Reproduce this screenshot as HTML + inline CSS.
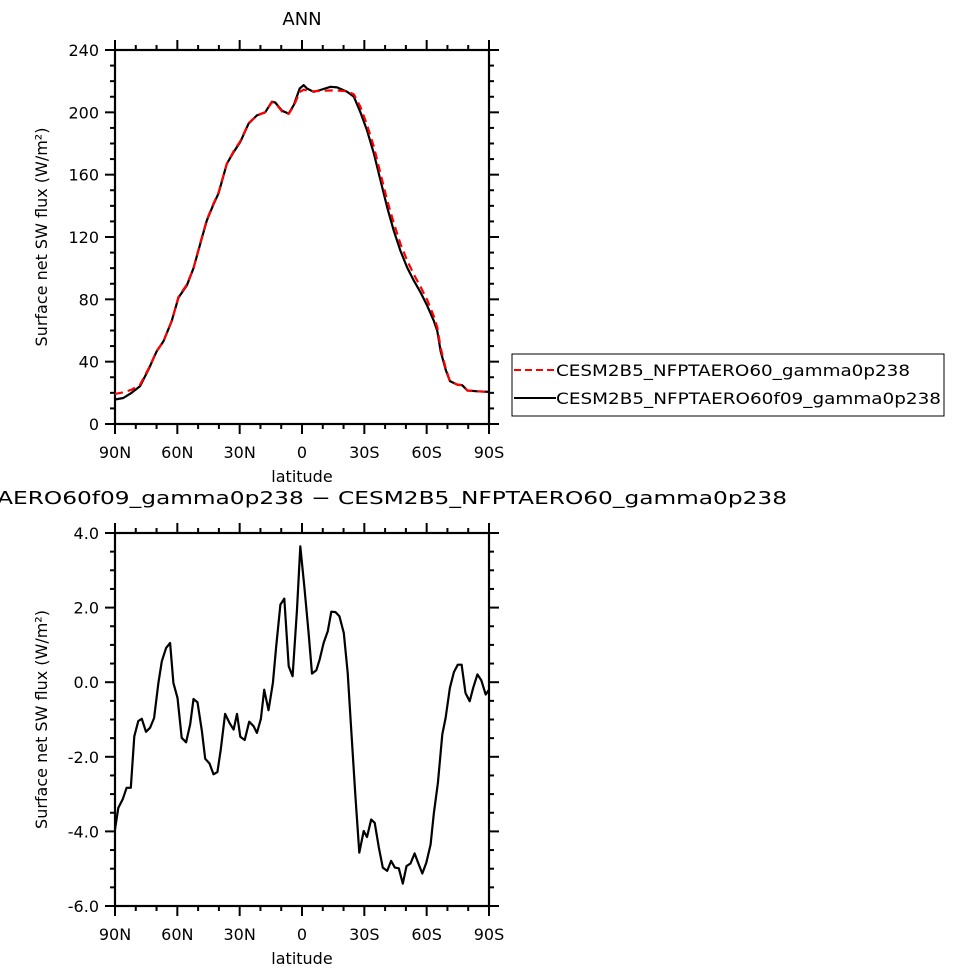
<!DOCTYPE html>
<html><head><meta charset="utf-8"><style>
html,body{margin:0;padding:0;background:#fff;}
svg{display:block;font-family:"DejaVu Sans","Liberation Sans",sans-serif;}
</style></head><body>
<svg id="c" width="977" height="975" viewBox="0 0 977 975"></svg>
<script>
// ---- top panel data ----
const topLat = [90,86,82,77.9,73.9,69.9,66.7,62.7,59.5,55.4,52.2,49.0,45.8,42.6,40.2,36.2,32.9,29.7,25.7,21.7,17.7,14.5,12.9,9.6,6.4,4.0,1.1,-0.8,-2.4,-5.6,-8.8,-13.7,-16.9,-21.7,-25.0,-28.1,-31.3,-34.6,-37.8,-41.0,-44.2,-47.4,-50.6,-53.8,-57.1,-60.3,-63.5,-65.1,-66.7,-69.1,-71.2,-74.7,-77.1,-79.6,-84.4,-90];
const blackVals = [15.7,16.7,20,24.3,35,46.8,53,66,81,89,100,115.5,130.5,141,148,167,174.5,181,192.8,198,200,206.8,206.3,201,199.2,204.6,215.3,217.5,215.3,213.2,214.3,216.4,216,213.2,210,200,188.5,173.5,156.3,139,124,111,100.5,92,84.4,75.8,66,59.7,46.8,35,27.5,25.3,24.9,21.5,21,20.6];
const redVals = [19.3,20.3,22,25.3,35.5,47,53,66,81.5,89.5,100,116,131,141.5,148.5,167,175,181.5,193,198,200,206.5,206,200.5,199,204,213,214.5,214,213.5,213.8,214,214,213.5,211.5,203.5,192,177.8,160.6,143.4,129,115.5,105,96,88,79.5,69,62,49,36,27.5,25.3,24.9,21.5,21,20.6];
const topYTicks = [0,40,80,120,160,200,240];
const xTickLabels = ["90N","60N","30N","0","30S","60S","90S"];
const xTickLats = [90,60,30,0,-30,-60,-90];
// ---- bottom panel data ----
const diffLat = [90.0,88.4,86.3,84.4,82.4,80.7,78.8,77.1,75.1,73.1,71.2,69.1,67.5,65.4,63.5,61.9,59.9,57.9,55.8,53.8,52.2,50.3,48.2,46.6,44.5,42.6,40.7,39.1,37.0,34.9,32.9,31.3,29.7,27.6,25.4,23.3,21.7,19.8,18.2,16.1,14.0,12.4,10.4,8.5,6.4,4.5,2.4,0.8,-1.1,-3.2,-4.8,-6.9,-8.5,-10.4,-12.4,-14.1,-16.1,-18.0,-20.1,-22.0,-23.6,-25.7,-27.6,-29.7,-31.3,-33.3,-35.0,-37.0,-38.9,-41.0,-42.9,-44.7,-46.6,-48.5,-50.3,-52.2,-54.2,-55.9,-57.9,-59.8,-61.9,-63.5,-65.4,-67.5,-69.1,-71.2,-73.1,-75.0,-76.8,-78.7,-80.7,-82.4,-84.4,-86.3,-88.4,-90.0];
const diffVals = [-3.95,-3.37,-3.14,-2.83,-2.83,-1.45,-1.04,-0.98,-1.33,-1.22,-0.96,-0.02,0.56,0.92,1.05,-0.02,-0.42,-1.49,-1.61,-1.13,-0.45,-0.54,-1.31,-2.05,-2.18,-2.47,-2.41,-1.80,-0.85,-1.09,-1.27,-0.85,-1.46,-1.55,-1.06,-1.18,-1.36,-0.98,-0.20,-0.75,-0.02,0.96,2.08,2.24,0.43,0.16,1.95,3.64,2.57,1.32,0.23,0.32,0.61,1.05,1.37,1.89,1.88,1.77,1.32,0.25,-1.18,-3.05,-4.57,-3.99,-4.15,-3.68,-3.77,-4.44,-4.97,-5.06,-4.79,-4.97,-4.99,-5.40,-4.93,-4.86,-4.59,-4.84,-5.13,-4.84,-4.35,-3.50,-2.70,-1.40,-0.96,-0.15,0.27,0.47,0.47,-0.29,-0.51,-0.15,0.21,0.05,-0.33,-0.20];
const botYTicks = [-6,-4,-2,0,2,4];
const botYLabels = ["-6.0","-4.0","-2.0","0.0","2.0","4.0"];

const NS="http://www.w3.org/2000/svg";
const svg=document.getElementById('c');
function mk(tag,attrs,parent){const e=document.createElementNS(NS,tag);for(const k in attrs)e.setAttribute(k,attrs[k]);(parent||svg).appendChild(e);return e;}
function txt(s,attrs,parent){const e=mk('text',attrs,parent);e.textContent=s;return e;}

function panel(name,L,T,R,B,ymin,ymax,yticks,ylabels,yminor){
  const g=mk('g',{});
  
  
  const xs=lat=>L+(90-lat)/180*(R-L);
  const ys=v=>B-(v-ymin)/(ymax-ymin)*(B-T);
  // minor ticks
  for(let lat=90;lat>=-90;lat-=10){const x=xs(lat);const maj=lat%30===0;const len=maj?10:5;
    mk('line',{x1:x,y1:B,x2:x,y2:B+len,stroke:'#000','stroke-width':2},g);
    mk('line',{x1:x,y1:T,x2:x,y2:T-len,stroke:'#000','stroke-width':2},g);}
  for(let v=ymin;v<=ymax+1e-9;v+=yminor){const y=ys(v);const maj=yticks.some(t=>Math.abs(t-v)<1e-6);const len=maj?10:5;
    mk('line',{x1:L,y1:y,x2:L-len,y2:y,stroke:'#000','stroke-width':2},g);
    mk('line',{x1:R,y1:y,x2:R+len,y2:y,stroke:'#000','stroke-width':2},g);}
  mk('rect',{x:L,y:T,width:R-L,height:B-T,fill:'none',stroke:'#000','stroke-width':2.2},g);
  yticks.forEach((t,i)=>{const e=txt(ylabels[i],{x:L-16,y:ys(t)+6,'text-anchor':'end','font-size':16},g);
    });
  xTickLats.forEach((lat,i)=>{const e=txt(xTickLabels[i],{x:xs(lat),y:B+34,'text-anchor':'middle','font-size':16},g);
    });
  const xt=txt('latitude',{x:(L+R)/2,y:B+58,'text-anchor':'middle','font-size':16},g);
  
  const yt=txt('Surface net SW flux (W/m²)',{x:0,y:0,'text-anchor':'middle','font-size':16,transform:`translate(${L-68},${(T+B)/2}) rotate(-90)`},g);
  
  return {xs,ys,g};
}
function line(p,lats,vals,color,dash,name){
  const d=lats.map((l,i)=>(i?'L':'M')+p.xs(l).toFixed(1)+' '+p.ys(vals[i]).toFixed(1)).join(' ');
  const e=mk('path',{d,fill:'none',stroke:color,'stroke-width':2.2,'stroke-linejoin':'round'},p.g);
  if(dash)e.setAttribute('stroke-dasharray',dash);
  
  
}
const p1=panel('top-panel',115,50,489,424,0,240,topYTicks,topYTicks.map(String),10);
line(p1,topLat,blackVals,'#000',null,'series-f09');
line(p1,topLat,redVals,'#f00','8 5','series-ctrl');
const t1=txt('ANN',{x:302,y:25,'text-anchor':'middle','font-size':18});


const p2=panel('bottom-panel',115,533,489,906,-6,4,botYTicks,botYLabels,0.5);
line(p2,diffLat,diffVals,'#000',null,'series-difference');
const t2=txt('CESM2B5_NFPTAERO60f09_gamma0p238 − CESM2B5_NFPTAERO60_gamma0p238',{x:-183,y:504,'font-size':18,textLength:970,lengthAdjust:'spacingAndGlyphs'});


// legend
const lg=mk('g',{});


mk('rect',{x:512,y:354,width:432,height:62,fill:'#fff',stroke:'#000','stroke-width':1},lg);
mk('line',{x1:514,y1:370,x2:556,y2:370,stroke:'#f00','stroke-width':2,'stroke-dasharray':'7 4'},lg);
mk('line',{x1:514,y1:398,x2:556,y2:398,stroke:'#000','stroke-width':2},lg);
const l1=txt('CESM2B5_NFPTAERO60_gamma0p238',{x:556,y:376,'font-size':16,textLength:354,lengthAdjust:'spacingAndGlyphs'},lg);

const l2=txt('CESM2B5_NFPTAERO60f09_gamma0p238',{x:556,y:404,'font-size':16,textLength:385,lengthAdjust:'spacingAndGlyphs'},lg);

</script>
</body></html>
